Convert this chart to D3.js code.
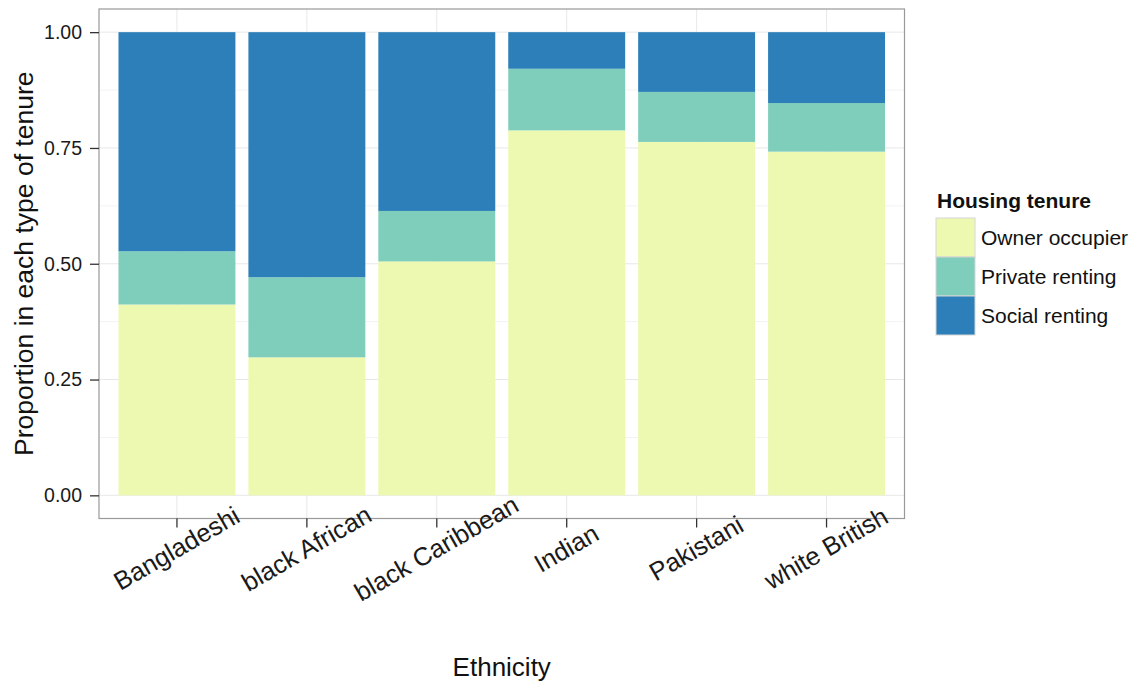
<!DOCTYPE html>
<html>
<head>
<meta charset="utf-8">
<script src="https://cdn.jsdelivr.net/npm/d3@7"></script>
<style>
	body { margin: 0; background: #fff; }
	svg { display: block; font-family: "Liberation Sans", Arial, Helvetica, sans-serif; }
</style>
</head>
<body>
<svg width="1135" height="682"></svg>
<script>
// --- Data ---
const ethnicities = ["Bangladeshi", "black African", "black Caribbean", "Indian", "Pakistani", "white British"];
const ownerOccupier = [0.412, 0.298, 0.505, 0.788, 0.763, 0.742];
const privateRenting = [0.115, 0.173, 0.109, 0.133, 0.108, 0.105];
const socialRenting = [0.473, 0.529, 0.386, 0.079, 0.129, 0.153];
const tenureLabels = ["Owner occupier", "Private renting", "Social renting"];
const tenureColours = ["#edf8b1", "#7fcdbb", "#2c7fb8"];
const yTicks = [0, 0.25, 0.5, 0.75, 1];
const yMinor = [0.125, 0.375, 0.625, 0.875];

// -------------------------
// Layout
// -------------------------
const svg = d3.select("svg");
const panel = { left: 99, right: 904.5, top: 9, bottom: 518.5 };
const TICK = 9;

const rows = ethnicities.map((e, i) => ({
	ethnicity: e,
	owner: ownerOccupier[i],
	private: privateRenting[i],
	social: socialRenting[i]
}));
const keys = ["owner", "private", "social"];
const series = d3.stack().keys(keys)(rows);

const x = d3
	.scaleBand()
	.domain(ethnicities)
	.range([panel.left, panel.right])
	.paddingInner(0.1)
	.paddingOuter(0.15);

// ggplot pads the continuous axis by 5% on each side
const y = d3
	.scaleLinear()
	.domain([-0.05, 1.05])
	.range([panel.bottom, panel.top]);

const colour = d3.scaleOrdinal().domain(keys).range(tenureColours);

// --- Grid ---
const grid = svg.append("g");
grid
	.selectAll("line.minor")
	.data(yMinor)
	.enter()
	.append("line")
	.attr("x1", panel.left)
	.attr("x2", panel.right)
	.attr("y1", (d) => y(d))
	.attr("y2", (d) => y(d))
	.attr("stroke", "#f3f3f3")
	.attr("stroke-width", 1);
grid
	.selectAll("line.majory")
	.data(yTicks)
	.enter()
	.append("line")
	.attr("x1", panel.left)
	.attr("x2", panel.right)
	.attr("y1", (d) => y(d))
	.attr("y2", (d) => y(d))
	.attr("stroke", "#e8e8e8")
	.attr("stroke-width", 1);
grid
	.selectAll("line.majorx")
	.data(ethnicities)
	.enter()
	.append("line")
	.attr("x1", (d) => x(d) + x.bandwidth() / 2)
	.attr("x2", (d) => x(d) + x.bandwidth() / 2)
	.attr("y1", panel.top)
	.attr("y2", panel.bottom)
	.attr("stroke", "#e8e8e8")
	.attr("stroke-width", 1);

// --- Bars ---
svg
	.append("g")
	.selectAll("g")
	.data(series)
	.enter()
	.append("g")
	.attr("fill", (d) => colour(d.key))
	.selectAll("rect")
	.data((d) => d)
	.enter()
	.append("rect")
	.attr("x", (d) => x(d.data.ethnicity))
	.attr("width", x.bandwidth())
	.attr("y", (d) => y(d[1]))
	.attr("height", (d) => y(d[0]) - y(d[1]));

// --- Panel border ---
svg
	.append("rect")
	.attr("x", panel.left)
	.attr("y", panel.top)
	.attr("width", panel.right - panel.left)
	.attr("height", panel.bottom - panel.top)
	.attr("fill", "none")
	.attr("stroke", "#999")
	.attr("stroke-width", 1.2);

// --- Y axis ---
const yAxis = svg
	.append("g")
	.attr("transform", `translate(${panel.left},0)`)
	.call(
		d3
			.axisLeft(y)
			.tickValues(yTicks)
			.tickFormat(d3.format(".2f"))
			.tickSize(TICK)
			.tickPadding(8)
	);
yAxis.select(".domain").remove();
yAxis.selectAll(".tick line").attr("stroke", "#333").attr("stroke-width", 1.3);
yAxis
	.selectAll(".tick text")
	.attr("fill", "#1a1a1a")
	.attr("font-size", 19.5)
	.attr("font-family", "Liberation Sans, Arial, sans-serif");

// --- X axis ---
const xAxis = svg
	.append("g")
	.attr("transform", `translate(0,${panel.bottom})`)
	.call(d3.axisBottom(x).tickSize(TICK).tickFormat(""));
xAxis.select(".domain").remove();
xAxis.selectAll(".tick line").attr("stroke", "#333").attr("stroke-width", 1.3);

svg
	.append("g")
	.selectAll("text")
	.data(ethnicities)
	.enter()
	.append("text")
	.attr(
		"transform",
		(d) => `translate(${x(d) + x.bandwidth() / 2 + 4},556) rotate(-30)`
	)
	.attr("text-anchor", "middle")
	.attr("font-size", 25.5)
	.attr("fill", "#1a1a1a")
	.text((d) => d);

// --- Axis titles ---
svg
	.append("text")
	.attr("x", (panel.left + panel.right) / 2)
	.attr("y", 676)
	.attr("text-anchor", "middle")
	.attr("font-size", 26)
	.attr("fill", "#111")
	.text("Ethnicity");

svg
	.append("text")
	.attr("transform", `translate(33,${(panel.top + panel.bottom) / 2}) rotate(-90)`)
	.attr("text-anchor", "middle")
	.attr("font-size", 26.5)
	.attr("fill", "#111")
	.text("Proportion in each type of tenure");

// --- Legend ---
const legend = svg.append("g").attr("transform", "translate(936,218)");
const KEY = 39;
legend
	.append("text")
	.attr("x", 1)
	.attr("y", -10)
	.attr("font-size", 21)
	.attr("font-weight", "bold")
	.attr("fill", "#111")
	.text("Housing tenure");

const item = legend
	.selectAll("g")
	.data(tenureLabels)
	.enter()
	.append("g")
	.attr("transform", (d, i) => `translate(0,${i * KEY})`);
item
	.append("rect")
	.attr("width", KEY)
	.attr("height", KEY)
	.attr("fill", (d, i) => tenureColours[i])
	.attr("stroke", "#d6d6d6")
	.attr("stroke-width", 1);
item
	.append("text")
	.attr("x", KEY + 6)
	.attr("y", KEY / 2 + 7.5)
	.attr("font-size", 21)
	.attr("fill", "#111")
	.text((d) => d);
</script>
</body>
</html>
